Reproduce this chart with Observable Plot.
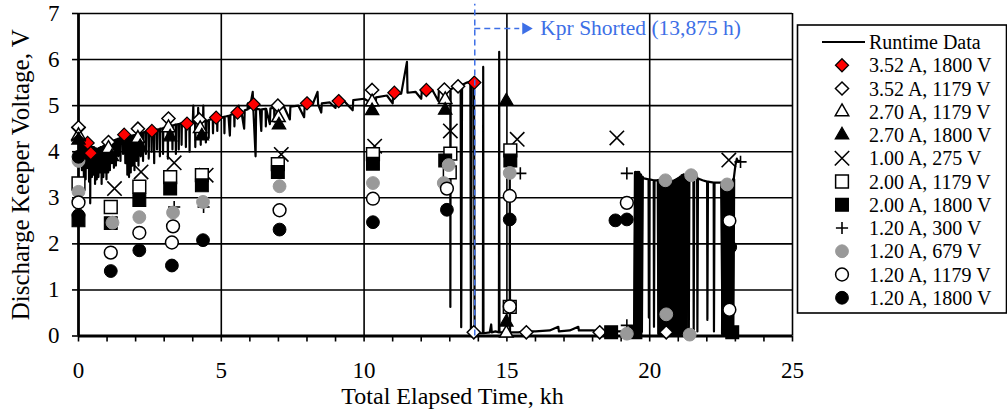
<!DOCTYPE html>
<html><head><meta charset="utf-8">
<script src="https://cdn.jsdelivr.net/npm/d3@7"></script>
<script src="https://cdn.jsdelivr.net/npm/@observablehq/plot@0.6"></script>
<style>
body{margin:0;background:#fff;}
#wrap{position:relative;width:1007px;height:410px;}
#wrap svg.legend{position:absolute;left:0;top:0;pointer-events:none;}
</style></head><body><div id="wrap"></div>
<script>
// ---------- DATA ----------
const xTicks = [0,1,2,3,4,5,6,7,8,9,10,11,12,13,14,15,16,17,18,19,20,21,22,23,24,25];
const xTickLabels = [0,5,10,15,20,25];
const yTicks = [0,1,2,3,4,5,6,7];
const xGrid = [5,10,15,20,25];
const yGrid = [1,2,3,4,5,6,7];

// Runtime data [kh, V]
const runtimePoints = [
[0.00,4.40],[0.04,4.32],[0.06,3.85],[0.07,4.30],[0.10,4.25],[0.12,3.60],[0.13,4.25],[0.17,4.22],[0.19,3.45],[0.20,4.22],[0.24,4.20],[0.25,3.40],[0.26,4.20],[0.30,4.16],[0.31,3.65],[0.32,4.16],[0.36,4.14],[0.37,3.35],[0.38,4.14],[0.41,4.12],[0.41,2.88],[0.42,4.12],[0.46,4.10],[0.47,3.45],[0.48,4.10],[0.52,4.10],[0.53,3.50],[0.54,4.10],[0.57,4.08],[0.58,3.30],[0.59,4.08],[0.63,4.06],[0.64,3.40],[0.65,4.06],[0.69,4.06],[0.70,3.45],[0.71,4.08],[0.75,4.08],[0.76,3.55],[0.77,4.10],[0.80,4.10],[0.81,3.30],[0.82,4.10],[0.86,4.12],[0.87,3.45],[0.88,4.12],[0.91,4.14],[0.92,3.55],[0.93,4.14],[0.97,4.15],[0.98,3.40],[0.99,4.15],
[1.03,4.17],[1.04,3.55],[1.05,4.17],[1.09,4.20],[1.10,3.60],[1.11,4.20],[1.16,4.22],[1.17,3.75],[1.18,4.22],[1.23,4.24],[1.24,3.65],[1.25,4.25],[1.30,4.26],[1.31,3.70],[1.32,4.26],[1.38,4.28],[1.39,3.90],[1.40,4.28],[1.46,4.30],[1.47,3.80],[1.48,4.30],[1.55,4.31],[1.56,3.95],[1.57,4.31],[1.63,4.32],[1.64,3.75],[1.65,4.32],[1.70,4.32],[1.71,3.50],[1.72,4.32],[1.76,4.33],[1.77,3.45],[1.78,4.33],[1.82,4.34],[1.83,3.55],[1.84,4.34],[1.88,4.35],[1.89,3.70],[1.90,4.35],[1.95,4.36],[1.96,3.60],[1.97,4.36],
[2.02,4.37],[2.03,3.80],[2.04,4.37],[2.09,4.38],[2.10,3.70],[2.11,4.38],[2.17,4.40],[2.18,3.90],[2.19,4.40],[2.25,4.41],[2.26,3.80],[2.27,4.42],[2.35,4.43],[2.36,3.95],[2.37,4.43],[2.45,4.45],[2.46,3.85],[2.47,4.45],[2.55,4.46],[2.56,4.00],[2.57,4.46],[2.64,4.47],[2.65,3.75],[2.66,4.47],[2.74,4.48],[2.75,4.05],[2.76,4.48],[2.84,4.49],[2.85,3.90],[2.86,4.50],[2.95,4.50],[2.96,3.95],[2.97,4.52],
[3.05,4.52],[3.12,4.54],[3.13,3.85],[3.14,4.54],[3.20,4.55],[3.28,4.57],[3.29,4.05],[3.30,4.57],[3.40,4.59],[3.41,3.95],[3.42,4.59],[3.50,4.60],[3.51,4.05],[3.52,4.60],[3.60,4.62],[3.61,4.15],[3.62,4.62],[3.75,4.62],[3.76,4.10],[3.77,4.62],[3.88,4.63],[3.89,4.00],[3.90,4.63],
[4.00,4.63],[4.02,5.00],[4.03,4.63],[4.08,4.64],[4.09,4.10],[4.10,4.64],[4.18,4.64],[4.19,4.95],[4.20,4.64],[4.27,4.65],[4.28,4.15],[4.29,4.65],[4.36,4.66],[4.37,5.00],[4.38,4.66],[4.45,4.67],[4.46,4.20],[4.47,4.67],[4.55,4.68],[4.56,4.30],[4.57,4.69],[4.70,4.71],[4.71,4.40],[4.72,4.71],[4.85,4.73],[4.86,4.45],[4.87,4.73],
[5.00,4.74],[5.10,4.76],[5.11,4.40],[5.12,4.76],[5.25,4.78],[5.30,4.35],[5.32,4.80],[5.45,4.82],[5.46,4.55],[5.47,4.82],[5.60,4.85],[5.61,5.00],[5.62,4.86],[5.70,4.88],[5.80,4.50],[5.82,4.90],[5.92,4.92],[5.93,5.05],[5.94,4.93],[6.00,4.95],[6.10,5.30],[6.12,4.95],[6.20,3.90],[6.22,4.93],[6.35,4.92],[6.40,4.45],[6.42,4.92],[6.55,4.93],[6.56,4.55],[6.57,4.93],[6.70,4.60],[6.72,4.94],[6.85,4.95],[6.86,4.65],[6.87,4.95],
[7.00,4.96],[7.20,4.97],[7.40,4.70],[7.42,4.98],[7.70,5.00],[7.90,4.75],[7.92,5.01],[8.20,5.03],[8.37,5.30],[8.39,5.03],[8.50,4.85],[8.52,5.05],[8.80,5.07],[9.00,4.95],[9.02,5.08],[9.30,5.10],[9.60,4.90],[9.62,5.12],
[10.00,5.15],[10.40,5.00],[10.42,5.18],[10.80,5.22],[11.00,5.05],[11.02,5.24],[11.30,5.26],[11.50,5.95],[11.52,5.28],[11.80,5.30],[12.00,5.15],[12.02,5.32],[12.40,5.33],[12.60,5.10],[12.62,5.34],[12.90,5.33],
[13.02,5.35],[13.02,0.63],[13.03,5.35],[13.20,5.42],[13.38,5.45],[13.40,0.19],[13.43,5.45],[13.60,5.50],[13.72,5.52],[13.74,0.05],[13.77,5.50],[13.85,5.50],[13.87,0.05],
[14.00,0.06],[14.16,0.06],[14.17,5.84],[14.18,0.06],[14.40,0.08],[14.45,0.25],[14.47,0.08],[14.60,0.10],[14.72,0.08],[14.73,6.17],[14.74,0.08],[14.90,0.08],[15.10,0.08],[15.10,3.90],[15.11,0.08],[15.40,0.08],[15.60,0.10],
[16.00,0.10],[16.50,0.12],[16.80,0.20],[16.82,0.10],[17.20,0.12],[17.50,0.20],[17.52,0.12],[18.00,0.12],[18.40,0.10],[18.90,0.10],
[19.47,0.10],[19.50,3.55],[19.53,0.05],[19.56,3.55],[19.59,0.05],[19.62,3.55],[19.65,0.05],[19.68,3.50],[19.71,0.10],[19.74,3.45],[19.80,3.42],[19.96,3.40],[19.97,0.40],[19.99,3.40],[20.14,3.38],[20.15,0.20],[20.17,3.38],
[20.30,3.38],[20.32,0.05],[20.35,3.38],[20.38,0.10],[20.41,3.38],[20.44,0.05],[20.47,3.37],[20.50,0.15],[20.53,3.37],[20.56,0.05],[20.59,3.37],[20.62,0.30],[20.65,3.36],[20.68,0.05],[20.71,3.36],[20.74,0.20],[20.77,3.36],[20.80,0.10],[20.83,3.36],[20.86,0.40],[20.89,3.38],[20.92,0.10],[20.95,3.40],[20.98,0.30],
[21.01,3.42],[21.04,0.05],[21.07,3.45],[21.10,0.20],[21.13,3.48],[21.16,0.05],[21.19,3.50],[21.22,0.10],[21.25,3.48],[21.28,0.05],[21.31,3.45],[21.36,3.45],[21.37,0.05],[21.39,3.45],[21.53,3.50],[21.54,0.10],[21.56,3.50],[21.60,3.55],[21.66,3.45],[21.67,0.10],[21.69,3.42],[21.85,3.38],
[22.01,3.35],[22.02,0.35],[22.04,3.35],[22.24,3.33],[22.25,0.10],[22.27,3.33],[22.50,3.33],[22.55,0.05],[22.58,3.33],[22.61,0.10],[22.64,3.33],[22.67,0.05],[22.70,3.33],[22.73,0.05],[22.76,3.33],[22.79,0.05],[22.82,3.33],[22.85,0.05],[22.88,3.35],[22.91,0.05],[22.94,3.40],
[23.00,3.70],[23.05,3.85],[23.10,3.78],[23.15,3.80]
];
// spans where the runtime trace oscillates too densely to resolve (kh)
const denseSpans = [[19.47,19.74],[20.30,21.31],[22.55,22.94]];

const seriesLabels = ["3.52 A, 1800 V","3.52 A, 1179 V","2.70 A, 1179 V","2.70 A, 1800 V","1.00 A, 275 V","2.00 A, 1179 V","2.00 A, 1800 V","1.20 A, 300 V","1.20 A, 679 V","1.20 A, 1179 V","1.20 A, 1800 V"];

const a352v1800T = [0.32,0.43,1.60,2.57,3.80,4.82,5.57,6.13,8.00,9.11,11.06,12.18,13.86];
const a352v1800V = [4.19,3.97,4.37,4.45,4.61,4.74,4.85,5.03,5.05,5.10,5.28,5.34,5.50];
const a352v1179T = [0.00,1.05,2.08,3.15,4.23,6.98,10.28,12.81,13.29,13.84,15.68,18.25,20.58];
const a352v1179V = [4.53,4.21,4.50,4.72,4.70,5.00,5.34,5.35,5.42,0.08,0.08,0.08,0.08];
const a270v1179T = [0.00,1.05,2.08,3.15,4.26,7.00,10.28,12.84,14.98];
const a270v1179V = [4.35,4.07,4.29,4.52,4.50,4.74,5.08,5.13,0.06];
const a270v1800T = [0.00,1.17,2.16,3.21,4.32,7.02,10.28,12.84,14.98,14.98];
const a270v1800V = [4.25,3.89,4.11,4.32,4.34,4.58,4.89,4.90,5.10,0.30];
const a100v275T = [0.00,1.26,2.19,3.35,4.47,7.10,10.37,13.02,15.36,18.85,22.77];
const a100v275V = [4.38,3.20,3.56,3.76,3.49,3.94,4.12,4.45,4.27,4.30,3.82];
const a200v1179T = [0.00,1.13,2.13,3.21,4.32,6.98,10.31,13.02,13.00,15.12,15.10];
const a200v1179V = [3.31,2.80,3.24,3.45,3.49,3.73,3.95,3.96,3.55,4.03,0.63];
const a200v1800T = [0.00,1.13,2.13,3.21,4.32,6.98,10.31,12.84,15.12,18.65,19.50,22.89];
const a200v1800V = [2.51,2.45,2.95,3.20,3.27,3.56,3.74,3.81,3.81,0.08,0.08,0.08];
const a120v300T = [3.35,4.38,15.47,19.20,19.20,23.18];
const a120v300V = [2.80,2.80,3.53,3.53,0.23,3.78];
const a120v679T = [0.00,0.00,1.19,2.13,3.31,4.36,7.04,10.31,12.79,12.96,15.10,19.20,20.55,20.58,21.40,21.45,22.71];
const a120v679V = [3.80,3.13,2.46,2.58,2.68,2.91,3.25,3.32,3.32,3.71,3.54,0.05,3.38,0.47,0.03,3.49,3.29];
const a120v1179T = [0.00,1.13,2.13,3.27,3.31,7.04,10.31,12.90,15.10,15.10,19.20,22.79,22.79];
const a120v1179V = [2.90,1.81,2.24,2.03,2.38,2.73,2.98,3.20,3.04,0.64,2.89,2.50,0.57];
const a120v1800T = [0.00,0.00,1.13,2.13,3.27,4.36,7.04,10.31,12.90,15.10,18.80,19.20,22.82];
const a120v1800V = [3.89,2.62,1.41,1.86,1.53,2.08,2.31,2.47,2.74,2.53,2.51,2.53,1.93];

const shortedAt = 13.875;
const shortedLabel = "Kpr Shorted (13,875 h)";
const calloutV = 6.675;      // height of the callout arrow (V)
const calloutArrowEnd = 15.45, calloutHead = 15.66, calloutText = 16.17;
const xTitle = "Total Elapsed Time, kh";
const yTitle = "Discharge Keeper Voltage, V";
const runtimeLabel = "Runtime Data";

// ---------- STYLES ----------
const FONT = "'Liberation Serif','Times New Roman',serif";
const BLUE = "#3d6fe6";
const styles = [
  {symbol:"diamond2", r:5.9, fill:"#ff0000", stroke:"#000", sw:1.2},
  {symbol:"diamond2", r:5.9, fill:"#fff", stroke:"#000", sw:1.5},
  {symbol:"triangle", r:5.0, fill:"#fff", stroke:"#000", sw:1.5},
  {symbol:"triangle", r:5.0, fill:"#000", stroke:"#000", sw:1.2},
  {symbol:"times", r:6.6, fill:"none", stroke:"#000", sw:1.6},
  {symbol:"square", r:7.2, fill:"#fff", stroke:"#000", sw:1.5},
  {symbol:"square", r:7.2, fill:"#000", stroke:"#000", sw:1.2},
  {symbol:"plus", r:4.0, fill:"none", stroke:"#000", sw:1.6},
  {symbol:"circle", r:6.4, fill:"#999999", stroke:"#999999", sw:1},
  {symbol:"circle", r:6.4, fill:"#fff", stroke:"#000", sw:1.5},
  {symbol:"circle", r:6.4, fill:"#000", stroke:"#000", sw:1}
];

const seriesT = [a352v1800T,a352v1179T,a270v1179T,a270v1800T,a100v275T,a200v1179T,a200v1800T,a120v300T,a120v679T,a120v1179T,a120v1800T];
const seriesV = [a352v1800V,a352v1179V,a270v1179V,a270v1800V,a100v275V,a200v1179V,a200v1800V,a120v300V,a120v679V,a120v1179V,a120v1800V];

const runtime = runtimePoints.map(([t,v])=>({t, v}));
const dense = [];
denseSpans.forEach(([a,b],k)=>runtime.forEach(d=>{ if (d.t>=a && d.t<=b) dense.push({...d, span:k}); }));

const seriesMarks = seriesLabels.map((label, k) => {
  const data = seriesT[k].map((t,i)=>({t, v: seriesV[k][i], label}));
  const s = styles[k];
  return Plot.dot(data, {x:"t", y:"v", symbol: ()=>s.symbol, r: s.r, fill: s.fill, stroke: s.stroke, strokeWidth: s.sw});
});

const chart = Plot.plot({
  width: 1007, height: 410,
  marginLeft: 78, marginRight: 215, marginTop: 13, marginBottom: 74.5,
  style: {fontFamily: FONT, background: "#fff", color: "#000"},
  x: {domain: [0,25], label: null},
  y: {domain: [0,7], label: null},
  symbol: {type: "identity"},
  marks: [
    Plot.gridX(xGrid, {stroke:"#000", strokeOpacity:1, strokeWidth:1.6}),
    Plot.gridY(yGrid, {stroke:"#000", strokeOpacity:1, strokeWidth:1.6}),
    Plot.axisX({ticks: xTicks, tickSize: 6, tickPadding: 20, strokeWidth: 1.6,
      tickFormat: d => xTickLabels.includes(d) ? String(d) : "", fontSize: 23, fontFamily: FONT, color:"#000"}),
    Plot.axisY({ticks: yTicks, tickSize: 6, tickPadding: 13, strokeWidth: 1.6, tickFormat: d => String(d),
      fontSize: 23, fontFamily: FONT, color:"#000"}),
    Plot.areaY(dense, {x:"t", y:"v", z:"span", fill:"#000", curve:"linear"}),
    Plot.line(runtime, {x:"t", y:"v", stroke:"#000", strokeWidth:2.2, strokeLinejoin:"round"}),
    Plot.line(dense, {x:"t", y:"v", z:"span", stroke:"#000", strokeWidth:3.2}),
    Plot.ruleX([0], {stroke:"#000", strokeWidth:2.8}),
    Plot.ruleY([0], {stroke:"#000", strokeWidth:2.8}),
    ...seriesMarks,
    Plot.ruleX([shortedAt], {y1: 0, y2: 7.2, stroke: BLUE, strokeWidth: 1.5, strokeDasharray: "6,4"}),
    Plot.ruleY([calloutV], {x1: shortedAt, x2: calloutArrowEnd, stroke: BLUE, strokeWidth: 1.5, strokeDasharray: "6,4"}),
    Plot.dot([{t:calloutHead, v:calloutV}], {x:"t", y:"v", symbol: ()=>"triangle", rotate: 90, r: 4.5, fill: BLUE, stroke: "none"}),
    Plot.text([shortedLabel], {x: ()=>calloutText, y: ()=>calloutV, text: d=>d, textAnchor: "start", fontSize: 21.5, fill: BLUE, fontFamily: FONT}),
    Plot.text([xTitle], {frameAnchor: "bottom", lineAnchor: "middle", textAnchor: "middle", dy: 60, dx: 17, fontSize: 24, fontFamily: FONT, fill: "#000"}),
    Plot.text([yTitle], {frameAnchor: "left", lineAnchor: "middle", textAnchor: "middle", rotate: -90, dx: -58, fontSize: 25, fontFamily: FONT, fill: "#000"})
  ]
});

const wrap = document.getElementById("wrap");
wrap.appendChild(chart);

// ---------- LEGEND (overlay svg) ----------
const symMap = {diamond2:d3.symbolDiamond2, triangle:d3.symbolTriangle, times:d3.symbolTimes, square:d3.symbolSquare, plus:d3.symbolPlus, circle:d3.symbolCircle};
const lg = d3.select(wrap).append("svg").attr("class","legend").attr("width",1007).attr("height",410);
lg.append("rect").attr("x",797.5).attr("y",25).attr("width",209).attr("height",288)
  .attr("fill","#fff").attr("stroke","#000").attr("stroke-width",1.6);
const rowY = i => 42 + i*23.25;
lg.append("line").attr("x1",822).attr("x2",865).attr("y1",rowY(0)).attr("y2",rowY(0)).attr("stroke","#000").attr("stroke-width",1.8);
lg.append("text").attr("x",869).attr("y",rowY(0)).attr("dy","0.35em").attr("font-family",FONT).attr("font-size",20).text(runtimeLabel);
seriesLabels.forEach((label,k)=>{
  const s = styles[k];
  const y = rowY(k+1);
  lg.append("path").attr("transform",`translate(842,${y})`)
    .attr("d", d3.symbol(symMap[s.symbol], Math.PI*s.r*s.r)())
    .attr("fill", s.fill).attr("stroke", s.stroke).attr("stroke-width", s.sw);
  lg.append("text").attr("x",869).attr("y",y).attr("dy","0.35em").attr("font-family",FONT).attr("font-size",20).text(label);
});
</script></body></html>
